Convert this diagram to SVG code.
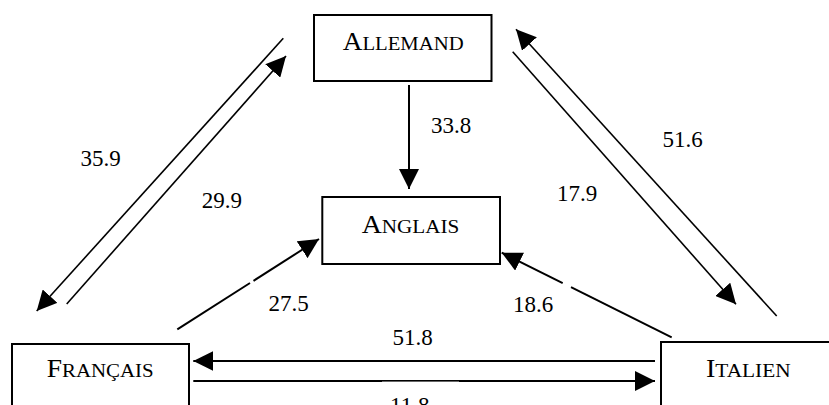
<svg xmlns="http://www.w3.org/2000/svg" width="829" height="405" viewBox="0 0 829 405">
<defs>
<marker id="ah" markerUnits="userSpaceOnUse" markerWidth="20" markerHeight="20" refX="20" refY="10" orient="auto" viewBox="0 0 20 20">
<path d="M0,0 L20,10 L0,20 Z" fill="#000"/>
</marker>
<style>
.box{fill:#fff;stroke:#000;stroke-width:2}
.lbl{font-family:"Liberation Serif","Times New Roman",serif;fill:#000}
.cap{font-size:25px}
.sc{font-size:19px}
.num{font-family:"Liberation Serif","Times New Roman",serif;font-size:23px;fill:#000}
.c{stroke:#000;stroke-width:2;fill:none}
.d{stroke:#000;stroke-width:1.6;fill:none}
.arr{marker-end:url(#ah)}
</style>
</defs>
<rect width="829" height="405" fill="#fff"/>
<g id="connectors">
<line class="c arr" x1="409" y1="85" x2="409" y2="189"/>
<line class="d arr" x1="283.3" y1="38.3" x2="36.7" y2="311"/>
<line class="d arr" x1="66.7" y1="304" x2="286" y2="56"/>
<line class="d arr" x1="776.7" y1="316" x2="516" y2="29.3"/>
<line class="d arr" x1="512.7" y1="51.7" x2="736" y2="304.3"/>
<line class="c" x1="177.3" y1="329.3" x2="250" y2="283"/>
<line class="c arr" x1="253.5" y1="280.8" x2="319" y2="239"/>
<line class="c" x1="671.7" y1="337.3" x2="571" y2="287.2"/>
<line class="c arr" x1="562.7" y1="283.1" x2="501.7" y2="252.7"/>
<line class="c arr" x1="655" y1="361" x2="193.3" y2="361"/>
<line class="c arr" x1="193.3" y1="381" x2="655" y2="381"/>
<rect x="382" y="381.6" width="77" height="24" fill="#fff"/>
<text class="num" x="431" y="132.7">33.8</text>
<text class="num" x="80.5" y="165.7">35.9</text>
<text class="num" x="201.8" y="208.3">29.9</text>
<text class="num" x="662.5" y="146.7">51.6</text>
<text class="num" x="557" y="201">17.9</text>
<text class="num" x="268.5" y="311">27.5</text>
<text class="num" x="513" y="311.7">18.6</text>
<text class="num" x="392.5" y="345">51.8</text>
<text class="num" x="390" y="413">11.8</text>
</g>
<g id="allemand">
<rect class="box" x="314" y="15" width="177.5" height="66"/>
<text class="lbl" x="342.7" y="50" textLength="121" lengthAdjust="spacingAndGlyphs"><tspan class="cap">A</tspan><tspan class="sc">LLEMAND</tspan></text>
</g>
<g id="anglais">
<rect class="box" x="322.3" y="197" width="177.7" height="67"/>
<text class="lbl" x="361.7" y="232.7" textLength="97.6" lengthAdjust="spacingAndGlyphs"><tspan class="cap">A</tspan><tspan class="sc">NGLAIS</tspan></text>
</g>
<g id="francais">
<rect class="box" x="12" y="344" width="177" height="80"/>
<text class="lbl" x="46.7" y="376.7" textLength="107" lengthAdjust="spacingAndGlyphs"><tspan class="cap">F</tspan><tspan class="sc">RANÇAIS</tspan></text>
</g>
<g id="italien">
<rect class="box" x="661" y="342" width="200" height="80"/>
<text class="lbl" x="706" y="376.7" textLength="84.7" lengthAdjust="spacingAndGlyphs"><tspan class="cap">I</tspan><tspan class="sc">TALIEN</tspan></text>
</g>
</svg>
